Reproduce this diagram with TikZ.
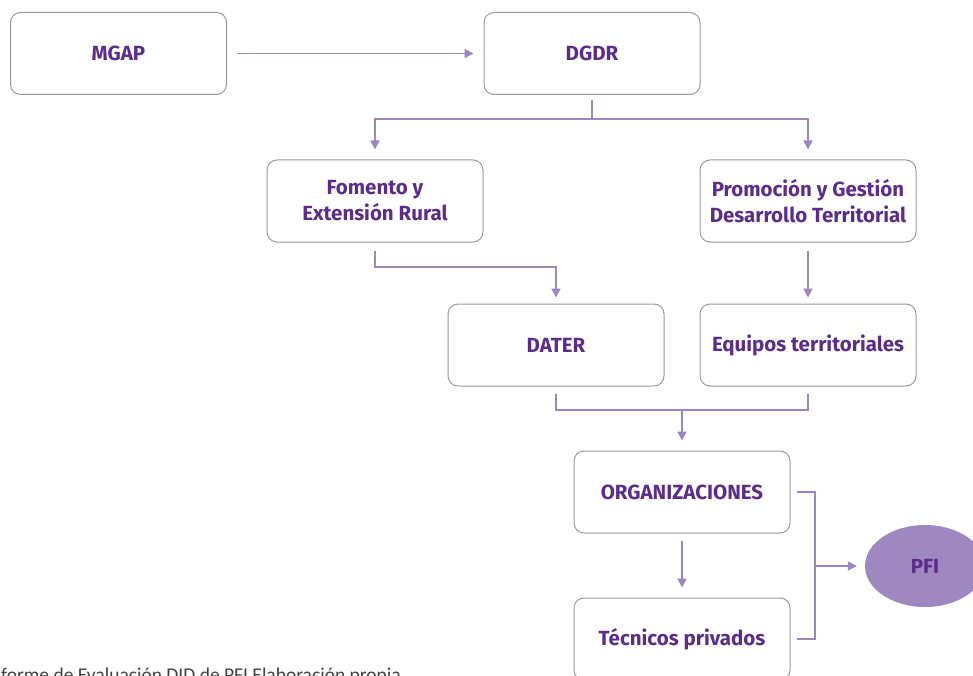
\documentclass[tikz,border=0pt]{standalone}
\usepackage{fontspec}
\setmainfont{Fira Sans}
\newfontfamily\foot{Carlito}
\usetikzlibrary{arrows.meta,shapes.geometric}
\definecolor{txtp}{HTML}{5B2C8C}
\definecolor{linep}{HTML}{9C86C2}
\definecolor{fillp}{HTML}{9F88BF}
\definecolor{boxg}{HTML}{9A9A9A}
\tikzset{
  box/.style={draw=boxg,line width=1pt,rounded corners=10pt,minimum width=216pt,minimum height=82pt,
    align=center,text=txtp,font=\fontsize{20.5}{26}\selectfont\bfseries,inner sep=0pt},
  ln/.style={draw=linep,line width=1.6pt},
  arr/.style={ln,-{Triangle[width=9pt,length=9pt]}},
}
\begin{document}
\begin{tikzpicture}[x=1pt,y=-1pt]
\useasboundingbox (0,0) rectangle (973,676);
\clip (0,0) rectangle (973,676);
\node[box] (m) at (118.5,53.5) {MGAP};
\node[box] (d) at (592,53.5) {DGDR};
\node[box] (f) at (375,201) {Fomento y\\Extensión Rural};
\node[box] (p) at (808,201) {Promoción y Gestión\\Desarrollo Territorial};
\node[box] (da) at (556,345) {DATER};
\node[box] (eq) at (808,345) {Equipos territoriales};
\node[box] (org) at (682,492) {ORGANIZACIONES};
\node[box] (tec) at (682,639) {Técnicos privados};
\node[ellipse,fill=fillp,minimum width=120pt,minimum height=82pt,inner sep=0pt,
  text=txtp,font=\fontsize{20.5}{24}\selectfont\bfseries] (pfi) at (925,566) {PFI};
\coordinate (j1) at (0,119);
\coordinate (j2) at (0,267);
\coordinate (j3) at (0,410);
\coordinate (j4) at (815,0);
\draw[arr] ([xshift=10pt]m.east) -- ([xshift=-10pt]d.west);
\draw[ln] ([yshift=-5pt]d.south) -- (d.south |- j1);
\draw[arr] (d.south |- j1) -| ([yshift=10pt]f.north);
\draw[arr] (d.south |- j1) -| ([yshift=10pt]p.north);
\draw[arr] ([yshift=-8pt]f.south) -- (f.south |- j2) -| ([yshift=6pt]da.north);
\draw[arr] ([yshift=-8pt]p.south) -- ([yshift=6pt]eq.north);
\draw[ln] ([yshift=-7pt]da.south) -- (da.south |- j3) -| ([yshift=-7pt]eq.south);
\draw[arr] (org.north |- j3) -- ([yshift=10pt]org.north);
\draw[arr] ([yshift=-7pt]org.south) -- ([yshift=10pt]tec.north);
\draw[ln] ([xshift=6pt]org.east) -- (org.east -| j4) -- (tec.east -| j4) -- ([xshift=6pt]tec.east);
\draw[arr] (j4 |- pfi.west) -- ([xshift=-8pt]pfi.west);
\node[anchor=base west,inner sep=0pt,text=black!75,font=\foot\fontsize{19.5}{22}\selectfont] (src) at (1,681) {forme de Evaluación DID de PFI Elaboración propia};
\end{tikzpicture}
\end{document}
